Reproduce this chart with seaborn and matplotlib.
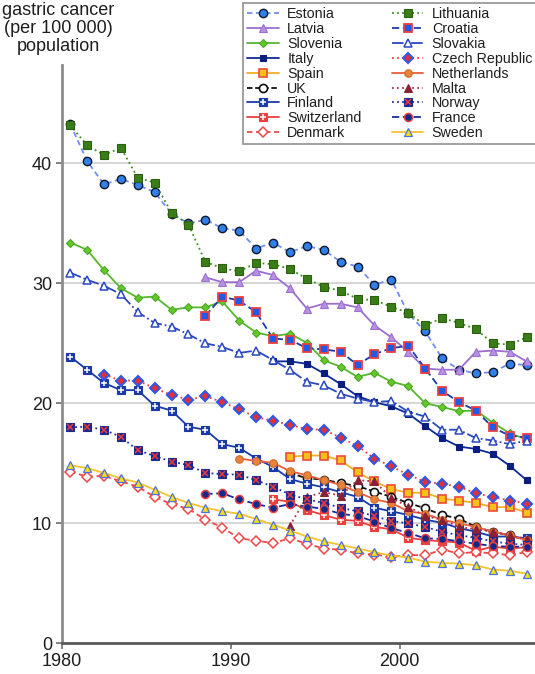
import numpy as np
import pandas as pd
import matplotlib
matplotlib.use("Agg")
import matplotlib.pyplot as plt
import seaborn as sns

# Gastric cancer mortality per 100 000, 1980-2007
years = list(range(1980, 2008))
N = None

estonia = [43.3, 40.2, 38.25, 38.7, 38.2, 37.6, 35.8, 35.0, 35.3, 34.6, 34.4, 32.9, 33.4, 32.6,
           33.1, 32.8, 31.8, 31.4, 29.9, 30.3, 27.5, 26.0, 23.75, 22.8, 22.5, 22.6, 23.3, 23.2]
latvia = [N] * 8 + [30.5, 30.1, 30.1, 31.05, 30.7, 29.6, 27.9, 28.3, 28.3, 28.0, 26.5, 25.5,
                    24.3, 22.9, 22.8, 22.8, 24.3, 24.4, 24.3, 23.5]
slovenia = [33.4, 32.8, 31.1, 29.6, 28.8, 28.9, 27.8, 28.0, 28.0, 28.5, 26.9, 25.9, 25.6, 25.8,
            25.05, 23.6, 23.05, 22.2, 22.55, 21.8, 21.45, 20.0, 19.7, 19.35, 19.4, 18.4, 17.5, 17.0]
italy = [N] * 12 + [23.5, 23.5, 23.3, 22.5, 21.6, 20.6, 20.1, 19.75, 19.15, 18.1, 17.1, 16.4,
                    16.2, 15.8, 14.8, 13.6]
spain = [N] * 13 + [15.55, 15.65, 15.65, 15.25, 14.25, 13.5, 12.85, 12.55, 12.55, 12.05, 11.9,
                    11.7, 11.35, 11.35, 10.9]
uk = [N] * 13 + [14.2, 13.75, 13.65, 13.35, 13.1, 12.65, 12.2, 11.7, 11.25, 10.7, 10.4, 9.7,
                 9.3, 9.0, 8.6]
finland = [23.9, 22.8, 21.7, 21.1, 21.1, 19.8, 19.4, 18.05, 17.8, 16.6, 16.3, 15.4, 14.7, 13.7,
           13.3, 13.0, 12.6, 12.2, 11.3, 11.0, 10.7, 10.3, 10.05, 9.6, 9.3, 8.9, 8.9, 8.75]
switzerland = [N] * 12 + [12.0, 11.8, 11.1, 10.7, 10.3, 10.2, 9.7, 9.5, 8.8, 8.6, 8.5, 8.4,
                          7.7, 8.05, 7.9, 8.0]
denmark = [14.3, 13.9, 13.95, 13.5, 13.05, 12.2, 11.6, 11.2, 10.3, 9.65, 8.75, 8.55, 8.35, 8.75,
           8.3, 7.9, 7.8, 7.5, 7.4, 7.2, 7.35, 7.35, 7.8, 7.5, 7.6, 7.5, 7.35, 7.6]
lithuania = [43.2, 41.5, 40.7, 41.3, 38.8, 38.4, 35.9, 34.9, 31.8, 31.25, 31.0, 31.7, 31.6, 31.2,
             30.4, 29.7, 29.4, 28.7, 28.6, 28.05, 27.55, 26.5, 27.1, 26.7, 26.2, 25.0, 24.9, 25.5]
croatia = [N] * 8 + [27.3, 28.9, 28.55, 27.6, 25.4, 25.3, 24.6, 24.5, 24.3, 23.2, 24.1, 24.6,
                     24.8, 22.9, 21.05, 20.1, 19.4, 18.0, 17.3, 17.15]
slovakia = [30.9, 30.3, 29.8, 29.1, 27.6, 26.7, 26.4, 25.75, 25.0, 24.7, 24.2, 24.4, 23.6, 22.8,
            21.8, 21.5, 20.8, 20.4, 20.1, 20.2, 19.3, 18.9, 17.8, 17.8, 17.1, 16.9, 16.6, 16.9]
czech = [N] * 2 + [22.4, 21.9, 21.9, 21.25, 20.7, 20.3, 20.6, 20.1, 19.5, 18.85, 18.55, 18.2,
                   17.85, 17.8, 17.15, 16.45, 15.4, 14.75, 14.05, 13.45, 13.3, 13.05, 12.5, 12.2,
                   11.9, 11.65]
netherlands = [N] * 10 + [15.4, 15.2, 15.05, 14.35, 14.0, 13.6, 13.2, 12.6, 12.0, 11.7, 11.0,
                          10.8, 10.3, 10.0, 9.7, 9.3, 9.0, 8.6]
malta = [N] * 13 + [9.8, 12.2, 12.6, 12.3, 13.6, 13.5, 12.1, 11.4, 10.6, 10.3, 9.7, 9.5, 9.3,
                    9.0, 8.7]
norway = [18.0, 18.05, 17.8, 17.2, 16.1, 15.6, 15.15, 14.85, 14.2, 14.1, 14.05, 13.6, 13.05, 12.4,
          12.0, 11.7, 11.3, 11.0, 10.6, 10.2, 10.0, 9.7, 9.3, 9.0, 8.8, 8.5, 8.3, 8.2]
france = [N] * 8 + [12.45, 12.5, 12.0, 11.6, 11.3, 11.6, 11.4, 11.2, 10.8, 10.6, 10.15, 9.6,
                    9.2, 8.75, 8.7, 8.5, 8.3, 8.1, 8.05, 8.05]
sweden = [14.85, 14.6, 14.2, 13.75, 13.4, 12.8, 12.2, 11.7, 11.3, 11.0, 10.8, 10.35, 9.9, 9.4,
          8.9, 8.5, 8.2, 7.9, 7.6, 7.3, 7.15, 6.8, 6.7, 6.65, 6.5, 6.15, 6.05, 5.8]

x_ticks = [1980, 1990, 2000]
y_ticks = [0, 10, 20, 30, 40]
y_title = "gastric cancer\n(per 100 000)\npopulation"

# name, values, line style, marker style, inner symbol drawn on the marker
series = [
    ("Estonia", estonia, dict(color="#6f8ff0", linestyle=(0, (3, 2))),
     dict(marker="o", markersize=6, markerfacecolor="#2f80e8", markeredgecolor="#101830", markeredgewidth=1.0), None),
    ("Latvia", latvia, dict(color="#9b6fd0", linestyle="-"),
     dict(marker="^", markersize=6.2, markerfacecolor="#b891e4", markeredgecolor="#9b6fd0", markeredgewidth=0.8), None),
    ("Slovenia", slovenia, dict(color="#55b82c", linestyle="-"),
     dict(marker="D", markersize=4.5, markerfacecolor="#66c826", markeredgecolor="#4aa82a", markeredgewidth=0.8), None),
    ("Italy", italy, dict(color="#0c2a96", linestyle="-"),
     dict(marker="s", markersize=5, markerfacecolor="#0a1e82", markeredgecolor="#0a1e82", markeredgewidth=0.8), None),
    ("Spain", spain, dict(color="#f5b025", linestyle="-"),
     dict(marker="s", markersize=5.4, markerfacecolor="#f6c21a", markeredgecolor="#ec4a3a", markeredgewidth=1.2), None),
    ("UK", uk, dict(color="#111111", linestyle=(0, (3, 1.5))),
     dict(marker="o", markersize=5.8, markerfacecolor="white", markeredgecolor="#111111", markeredgewidth=1.2), None),
    ("Finland", finland, dict(color="#1a3aa8", linestyle="-"),
     dict(marker="s", markersize=5.4, markerfacecolor="#1a3aa8", markeredgecolor="#1a3aa8", markeredgewidth=0.8),
     dict(marker="+", markersize=4.4, color="white", markeredgewidth=1.1)),
    ("Switzerland", switzerland, dict(color="#ec4040", linestyle="-"),
     dict(marker="s", markersize=5.4, markerfacecolor="#ec4040", markeredgecolor="#ec4040", markeredgewidth=0.8),
     dict(marker="+", markersize=4.4, color="white", markeredgewidth=1.1)),
    ("Denmark", denmark, dict(color="#ec4a4a", linestyle=(0, (3, 2))),
     dict(marker="D", markersize=5.2, markerfacecolor="white", markeredgecolor="#ec4a4a", markeredgewidth=1.1), None),
    ("Lithuania", lithuania, dict(color="#3d8f1e", linestyle=(0, (1, 1.8))),
     dict(marker="s", markersize=5.2, markerfacecolor="#3a7d18", markeredgecolor="#2a6010", markeredgewidth=0.8), None),
    ("Croatia", croatia, dict(color="#1a3aa8", linestyle=(0, (4, 2))),
     dict(marker="s", markersize=5.4, markerfacecolor="#1f5ae8", markeredgecolor="#ec4040", markeredgewidth=1.3), None),
    ("Slovakia", slovakia, dict(color="#2a48c0", linestyle="-."),
     dict(marker="^", markersize=6.2, markerfacecolor="white", markeredgecolor="#2a48c0", markeredgewidth=1.1), None),
    ("Czech Republic", czech, dict(color="#ec4040", linestyle=(0, (1, 1.8))),
     dict(marker="D", markersize=5.2, markerfacecolor="#e03038", markeredgecolor="#3058e8", markeredgewidth=1.5), None),
    ("Netherlands", netherlands, dict(color="#ec5a3a", linestyle="-"),
     dict(marker="o", markersize=5.4, markerfacecolor="#e8843a", markeredgecolor="#d06a28", markeredgewidth=0.8), None),
    ("Malta", malta, dict(color="#b03048", linestyle=(0, (1, 1.8))),
     dict(marker="^", markersize=5.8, markerfacecolor="#8b2035", markeredgecolor="#8b2035", markeredgewidth=0.8), None),
    ("Norway", norway, dict(color="#2030a0", linestyle=(0, (1, 1.8))),
     dict(marker="s", markersize=5.4, markerfacecolor="#1a2a90", markeredgecolor="#1a2a90", markeredgewidth=0.8),
     dict(marker="x", markersize=4.0, color="#ec3a3a", markeredgewidth=1.1)),
    ("France", france, dict(color="#1a2a9a", linestyle=(0, (4, 2))),
     dict(marker="o", markersize=5.8, markerfacecolor="#102a8a", markeredgecolor="#ec4040", markeredgewidth=1.1), None),
    ("Sweden", sweden, dict(color="#f5c330", linestyle="-"),
     dict(marker="^", markersize=6.2, markerfacecolor="#f2e010", markeredgecolor="#5070e0", markeredgewidth=0.9), None),
]

sns.set_theme(style="white")
plt.rcParams["font.family"] = ["Liberation Sans", "DejaVu Sans"]
text_color = "#1e1e1e"

W, H = 535, 674
fig = plt.figure(figsize=(W / 100, H / 100), dpi=100)
ax = fig.add_axes([61.7 / W, 30.7 / H, 1 - 61.7 / W, (643.3 - 65) / H])

handles, labels = [], []
for name, values, line_kw, mark_kw, inner_kw in series:
    df = pd.DataFrame({"year": years, "rate": values}).dropna()
    df["pos"] = df["year"] + 0.5
    n_before = len(ax.lines)
    sns.lineplot(data=df, x="pos", y="rate", ax=ax, estimator=None, sort=True,
                 linewidth=1.3, **line_kw, **mark_kw)
    main = ax.lines[n_before]
    if inner_kw is not None:
        inner = ax.plot(df["pos"], df["rate"], linestyle="none", **inner_kw)[0]
        handles.append((main, inner))
    else:
        handles.append(main)
    labels.append(name)

ax.set_xlim(1980, 2008.0)
ax.set_ylim(0, 48.2)
ax.set_xticks(x_ticks)
ax.set_xticklabels([str(t) for t in x_ticks])
ax.set_yticks(y_ticks)
ax.set_yticklabels([str(t) for t in y_ticks])
ax.set_xlabel("")
ax.set_ylabel("")
ax.yaxis.grid(True, color="#d6d6d6", linewidth=1.4)
ax.xaxis.grid(False)
ax.set_axisbelow(True)
for s in ("top", "right"):
    ax.spines[s].set_visible(False)
ax.spines["left"].set_color("#8c8c8c")
ax.spines["left"].set_linewidth(2.0)
ax.spines["bottom"].set_color("#5a5a5a")
ax.spines["bottom"].set_linewidth(2.0)
ax.tick_params(axis="both", which="major", length=4, width=1.3, color="#7a7a7a",
               labelsize=13, labelcolor=text_color, pad=3, direction="out")
ax.tick_params(axis="y", left=True)
ax.tick_params(axis="x", bottom=True)

fig.text(58 / W, 1.0 - 2 / H, y_title, ha="center", va="top", fontsize=13,
         color=text_color, linespacing=1.08)

leg = fig.legend(handles, labels, loc="upper left", bbox_to_anchor=(243 / W, 1 - 3 / H),
                 ncol=2, fontsize=10.3, frameon=True, fancybox=False, framealpha=1,
                 edgecolor="#9a9a9a", borderpad=0.3, labelspacing=0.06,
                 handlelength=2.2, handletextpad=0.6, columnspacing=2.1,
                 borderaxespad=0, numpoints=1)
leg.get_frame().set_linewidth(1.3)
for t in leg.get_texts():
    t.set_color(text_color)

fig.savefig("out.png", dpi=100)
